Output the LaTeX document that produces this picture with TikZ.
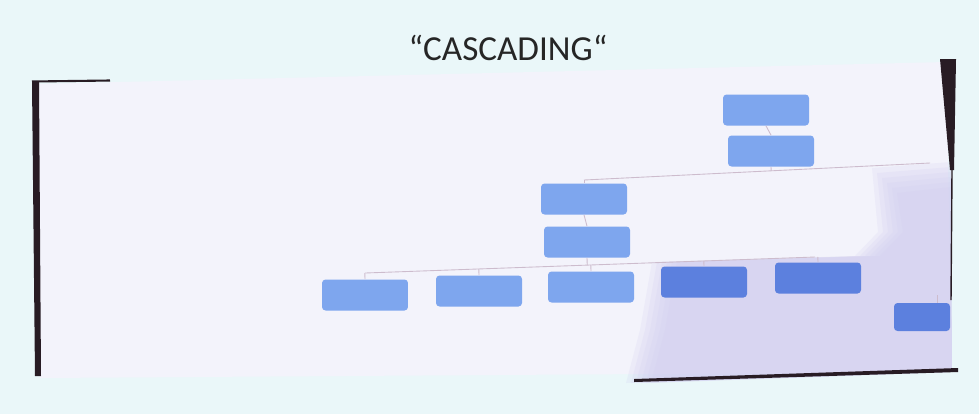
\documentclass[tikz,border=0pt]{standalone}
\usepackage{fontspec}
\setmainfont{Carlito}
\usepackage{tikz}
\usetikzlibrary{calc}
\definecolor{bgcyan}{RGB}{234,247,249}
\definecolor{screenwhite}{RGB}{243,243,251}
\definecolor{shadowlav}{RGB}{208,204,240}
\definecolor{framedark}{RGB}{40,28,36}
\definecolor{boxlight}{RGB}{126,166,238}
\definecolor{boxdark}{RGB}{92,128,222}
\definecolor{tiepink}{RGB}{205,188,205}
\tikzset{
    org_box/.style={rectangle, rounded corners=2pt, fill=boxlight, minimum width=1.72cm, minimum height=0.62cm, inner sep=0pt},
    org_box_dark/.style={org_box, fill=boxdark},
    tie_line/.style={draw=tiepink, line width=0.5pt},
    frame_edge/.style={fill=framedark}
}

\begin{document}
\begin{tikzpicture}[x=0.02cm, y=-0.02cm]
\useasboundingbox (0,0) rectangle (979,414);
\fill[bgcyan] (0,0) rectangle (979,414);

% screen and the soft shadow on it
\fill[screenwhite] (38,84) -- (946,62) -- (952,372) -- (40,378) -- cycle;
\foreach \d in {0,5,...,25} {
    \fill[shadowlav, opacity=0.2] (872+\d,168+\d) -- (951,162+\d) -- (952,372) -- (626+\d,383) -- (640+\d,330) -- (652+\d,262) -- (855+\d,256) -- (878+\d,232) -- cycle;
}

% frame edges
\fill[frame_edge] (32,82) -- (39,82) -- (41,376) -- (35,376) -- cycle;
\draw[framedark, line width=1.2pt] (32,81.5) -- (110,80.5);
\fill[frame_edge] (940,59) -- (956,59) -- (954,170) -- (950,170) -- cycle;
\draw[framedark, line width=0.8pt] (952,170) -- (951,300);
\fill[frame_edge] (634,379) -- (958,368) -- (958,372) -- (634,382) -- cycle;

\node[font=\fontsize{20}{24}\selectfont, text=black!85] (title) at (508,48) {“CASCADING“};

\node[org_box] (b1) at (766,110) {};
\node[org_box] (b2) at (771,151) {};
\node[org_box] (b3) at (584,199) {};
\node[org_box] (b4) at (587,242) {};

\node[org_box]      (b5)  at (365,295) {};
\node[org_box]      (b6)  at (479,291) {};
\node[org_box]      (b7)  at (591,287) {};
\node[org_box_dark] (b8)  at (704,282) {};
\node[org_box_dark] (b9)  at (818,278) {};
\node[org_box_dark, minimum width=1.12cm, minimum height=0.56cm] (b10) at (922,317) {};

\coordinate (bus1L) at (584,180);
\coordinate (bus1R) at (930,163);
\coordinate (bus2L) at (365,273);
\coordinate (bus2R) at (815,257);
\coordinate (top10) at (937,295);

\draw[tie_line] (b1.south) -- (b2.north);
\draw[tie_line] (bus1L) -- (bus1R);
\draw[tie_line] (b2.south) -- ($(bus1L)!(b2.south)!(bus1R)$);
\draw[tie_line] (bus1L) -- (b3.north);

\draw[tie_line] (b3.south) -- (b4.north);
\draw[tie_line] (bus2L) -- (bus2R);
\draw[tie_line] (b4.south) -- ($(bus2L)!(b4.south)!(bus2R)$);
\foreach \i in {5,6,7,8,9} {
    \draw[tie_line] (b\i.north) -- ($(bus2L)!(b\i.north)!(bus2R)$);
}

\draw[tie_line] (top10) -- (top10 |- b10.north);

\end{tikzpicture}
\end{document}
